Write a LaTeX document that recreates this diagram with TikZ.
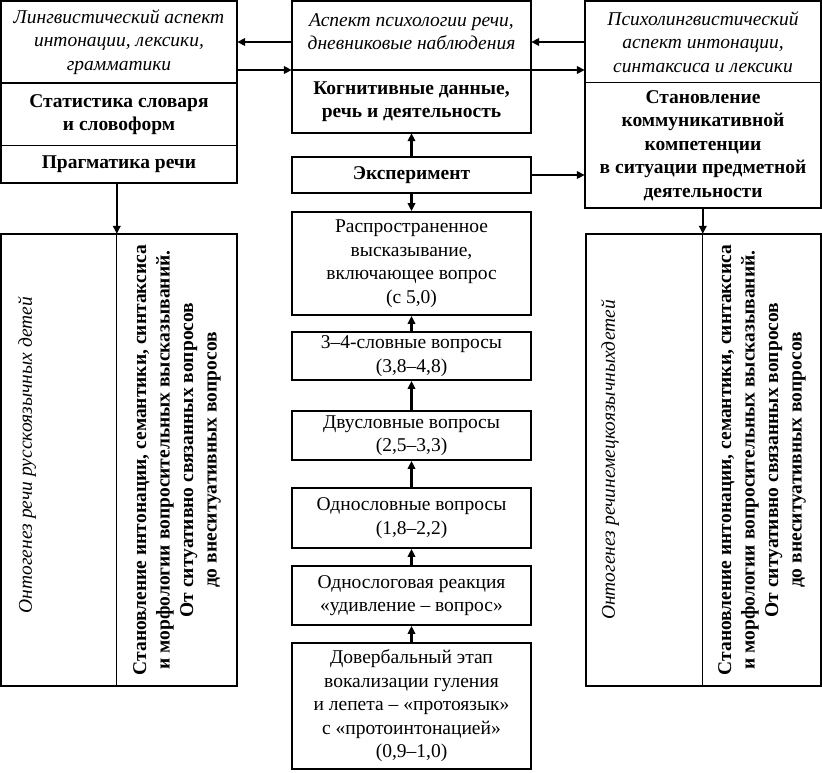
\documentclass[tikz,border=0pt]{standalone}
\usepackage{fontspec}
\setmainfont{Liberation Serif}
\usetikzlibrary{arrows.meta}
\newcommand{\fsz}{\fontsize{19.5}{23.5}\selectfont}
\begin{document}
\begin{tikzpicture}[x=1pt,y=-1pt,
  sect/.style={inner sep=0pt, align=center, font=\fsz},
  boxline/.style={line width=1.8pt},
  divider/.style={line width=1.1pt},
  arr/.style={-{Triangle[length=8pt,width=7.5pt]}, line width=2.2pt},
  vtext/.style={rotate=90, inner sep=0pt, align=center, font=\fsz}
]
\useasboundingbox (0,0) rectangle (822,772);
\coordinate (y42) at (0,42);
\coordinate (y70) at (0,70);
% left top
\node[sect, minimum width=236pt, minimum height=82pt] (ltA) at (119,42) {\itshape Лингвистический аспект\\\itshape интонации, лексики,\\\itshape грамматики};
\node[sect, minimum width=236pt, minimum height=63pt] (ltB) at (119,114.5) {\bfseries Статистика словаря\\\bfseries и словоформ};
\node[sect, minimum width=236pt, minimum height=37pt] (ltC) at (119,164.5) {\bfseries Прагматика речи};
\draw[boxline] (ltA.north west) rectangle (ltC.south east);
\draw[boxline] (ltB.north west) -- (ltB.north east);
\draw[divider] (ltC.north west) -- (ltC.north east);
% middle top
\node[sect, minimum width=239pt, minimum height=69pt] (mA) at (411.5,35.5) {};
\node[sect] (mAt) at (411.5,31.5) {\itshape Аспект психологии речи,\\\itshape дневниковые наблюдения};
\node[sect, minimum width=239pt, minimum height=63pt] (mB) at (411.5,101.5) {\bfseries Когнитивные данные,\\\bfseries речь и деятельность};
\draw[boxline] (mA.north west) rectangle (mB.south east);
\draw[boxline] (mA.south west) -- (mA.south east);
% right top
\node[sect, minimum width=236pt, minimum height=82pt] (rA) at (703,42) {\itshape Психолингвистический\\\itshape аспект интонации,\\\itshape синтаксиса и лексики};
\node[sect, minimum width=236pt, minimum height=125pt] (rB) at (703,145.5) {\bfseries Становление\\\bfseries коммуникативной\\\bfseries компетенции\\\bfseries в ситуации предметной\\\bfseries деятельности};
\draw[boxline] (rA.north west) rectangle (rB.south east);
\draw[divider] (rB.north west) -- (rB.north east);
% experiment and chain
\node[sect, draw, boxline, minimum width=239pt, minimum height=36pt] (exp) at (411.5,175) {\bfseries Эксперимент};
\node[sect, draw, boxline, minimum width=239pt, minimum height=103pt] (q5) at (411.5,263.5) {Распространенное\\высказывание,\\включающее вопрос\\(с 5,0)};
\node[sect, draw, boxline, minimum width=239pt, minimum height=48pt] (q4) at (411.5,356) {3–4-словные вопросы\\(3,8–4,8)};
\node[sect, draw, boxline, minimum width=239pt, minimum height=49pt] (q3) at (411.5,435.5) {Двусловные вопросы\\(2,5–3,3)};
\node[sect, draw, boxline, minimum width=239pt, minimum height=60pt] (q2) at (411.5,518) {Однословные вопросы\\(1,8–2,2)};
\node[sect, draw, boxline, minimum width=239pt, minimum height=59pt] (q1) at (411.5,595.5) {Однослоговая реакция\\«удивление – вопрос»};
\node[sect, draw, boxline, minimum width=239pt, minimum height=126pt] (q0) at (411.5,706) {Довербальный этап\\вокализации гуления\\и лепета – «протоязык»\\с «протоинтонацией»\\(0,9–1,0)};
% bottom left
\node[sect, minimum width=116pt, minimum height=452pt] (lbL) at (59,460) {};
\node[sect, minimum width=120pt, minimum height=452pt] (lbR) at (177,460) {};
\draw[boxline] (lbL.north west) rectangle (lbR.south east);
\draw[divider] (lbR.north west) -- (lbR.south west);
\node[vtext] (lbLt) at (27,455) {\itshape Онтогенез речи русскоязычных детей};
\node[vtext] (lbRt) at (lbR) {\bfseries Становление интонации, семантики, синтаксиса\\\bfseries и морфологии вопросительных высказываний.\\\bfseries От ситуативно связанных вопросов\\\bfseries до внеситуативных вопросов};
% bottom right
\node[sect, minimum width=117pt, minimum height=452pt] (rbL) at (644.5,460) {};
\node[sect, minimum width=118pt, minimum height=452pt] (rbR) at (762,460) {};
\draw[boxline] (rbL.north west) rectangle (rbR.south east);
\draw[divider] (rbR.north west) -- (rbR.south west);
\node[vtext] (rbLt) at (610,460) {\itshape Онтогенез речинемецкоязычныхдетей};
\node[vtext] (rbRt) at (rbR) {\bfseries Становление интонации, семантики, синтаксиса\\\bfseries и морфологии вопросительных высказываний.\\\bfseries От ситуативно связанных вопросов\\\bfseries до внеситуативных вопросов};
% connectors
\draw[arr] (mA.west |- y42) -- (ltA.east |- y42);
\draw[arr] (ltA.east |- y70) -- (mA.west |- y70);
\draw[arr] (rA.west |- y42) -- (mA.east |- y42);
\draw[arr] (mA.east |- y70) -- (rA.west |- y70);
\draw[arr] (exp.north) -- (mB.south);
\draw[arr] (exp.east) -- (rB.west |- exp.east);
\draw[arr] (exp.south) -- (q5.north);
\draw[arr] (q4.north) -- (q5.south);
\draw[arr] (q3.north) -- (q4.south);
\draw[arr] (q2.north) -- (q3.south);
\draw[arr] (q1.north) -- (q2.south);
\draw[arr] (q0.north) -- (q1.south);
\draw[arr] (ltC.south -| lbR.north west) -- (lbR.north west);
\draw[arr] (rB.south -| rbR.north west) -- (rbR.north west);
\end{tikzpicture}
\end{document}
